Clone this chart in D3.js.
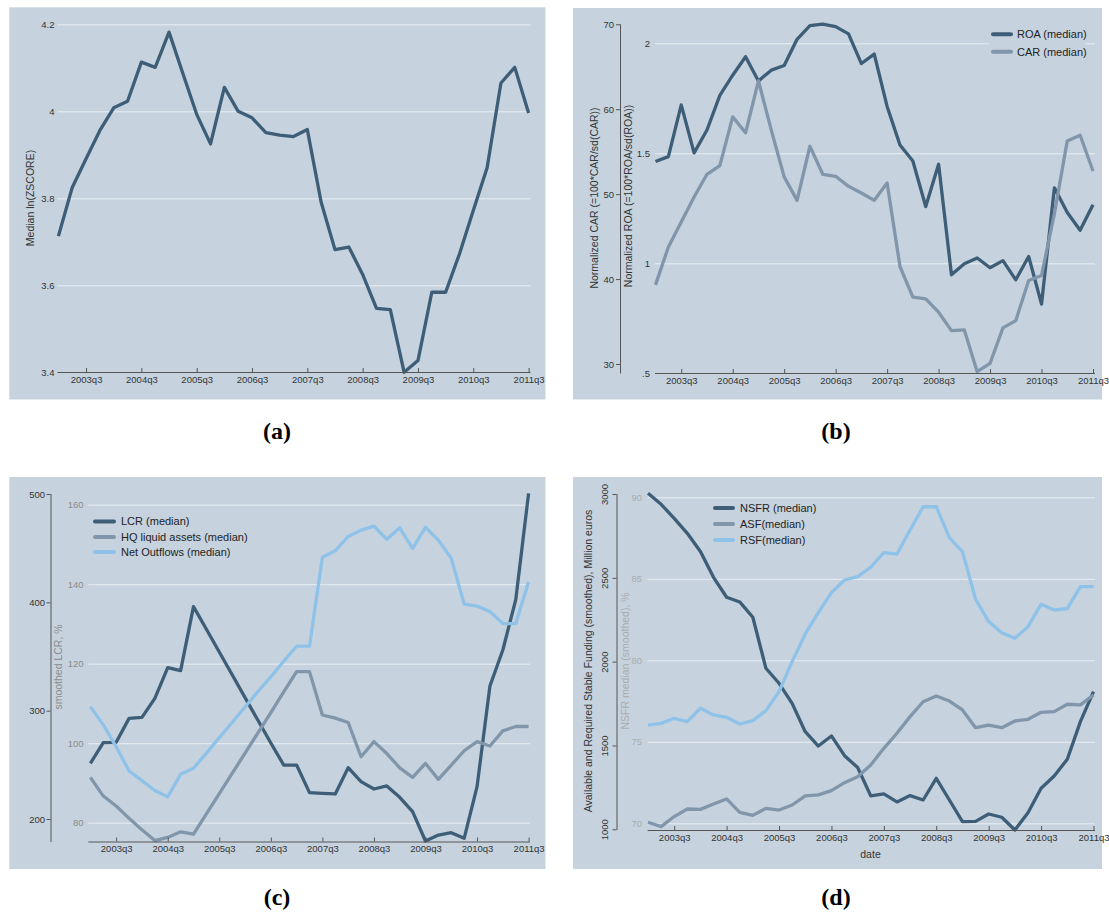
<!DOCTYPE html>
<html>
<head>
<meta charset="utf-8">
<script src="https://cdn.jsdelivr.net/npm/d3@7"></script>
<style>
  body { margin: 0; background: #fff; }
  svg text { font-family: 'Liberation Sans', Arial, sans-serif; }
</style>
</head>
<body>
<svg id="chart" width="1109" height="916"></svg>
<script>
// quarters on the x axis
const quarters = ['2003q1','2003q2','2003q3','2003q4','2004q1','2004q2','2004q3','2004q4',
  '2005q1','2005q2','2005q3','2005q4','2006q1','2006q2','2006q3','2006q4',
  '2007q1','2007q2','2007q3','2007q4','2008q1','2008q2','2008q3','2008q4',
  '2009q1','2009q2','2009q3','2009q4','2010q1','2010q2','2010q3','2010q4',
  '2011q1','2011q2','2011q3'];
const xTicks = ['2003q3','2004q3','2005q3','2006q3','2007q3','2008q3','2009q3','2010q3','2011q3'];

// (a) median ln(ZSCORE)
const zscore = [3.713,3.825,3.891,3.956,4.008,4.023,4.113,4.101,4.182,4.087,3.993,3.925,
  4.055,4.000,3.985,3.951,3.945,3.942,3.958,3.791,3.682,3.688,3.625,3.547,3.544,3.400,
  3.427,3.584,3.584,3.672,3.772,3.870,4.065,4.101,3.996];
const zTicks = [3.4, 3.6, 3.8, 4, 4.2];

// (b) normalized ROA / CAR
const roa = [1.463,1.485,1.720,1.502,1.606,1.763,1.855,1.939,1.829,1.878,1.899,2.018,
  2.080,2.087,2.076,2.043,1.908,1.951,1.713,1.538,1.465,1.258,1.450,0.948,0.998,1.024,
  0.980,1.012,0.925,1.031,0.815,1.343,1.231,1.150,1.266];
const car = [39.32,43.77,46.72,49.67,52.34,53.36,59.10,57.22,63.35,57.53,52.03,49.27,
  55.64,52.34,52.10,50.92,50.14,49.27,51.32,41.48,37.87,37.67,36.10,33.93,34.01,29.10,
  30.08,34.25,35.11,39.83,40.42,47.70,56.27,56.94,52.73];
const roaTicks = [0.5, 1, 1.5, 2];
const carTicks = [30, 40, 50, 60, 70];
const legendB = ['ROA (median)', 'CAR (median)'];

// (c) LCR and its components
const lcr = [251.4,270.5,270.8,292.9,293.8,311.4,339.7,336.9,396.0,375.1,354.2,333.2,
  312.0,291.1,270.2,249.8,249.8,224.3,223.7,223.1,247.4,234.5,227.7,230.5,220.0,206.8,
  179.7,185.2,187.4,182.2,229.8,322.8,356.0,402.2,500.6];
const hqAssets = [91.4,86.7,84.2,81.1,78.2,75.5,76.3,77.7,77.1,82.2,87.3,92.4,97.5,102.6,
  107.7,112.9,118.0,118.0,107.1,106.3,105.2,96.6,100.4,97.4,93.8,91.4,94.9,90.9,94.5,
  98.1,100.4,99.3,103.1,104.2,104.2];
const netOutflows = [109.2,104.6,99.1,93.0,90.6,88.1,86.5,92.2,93.7,97.5,101.4,105.2,
  109.1,113.0,116.7,120.6,124.4,124.4,146.8,148.4,152.0,153.6,154.6,151.3,154.2,149.0,
  154.3,151.1,146.5,135.0,134.5,133.1,130.1,130.1,140.6];
const lcrTicks = [200, 300, 400, 500];
const pctTicks = [80, 100, 120, 140, 160];
const legendC = ['LCR (median)', 'HQ liquid assets (median)', 'Net Outflows (median)'];

// (d) NSFR and its components
const nsfr = [90.25,89.57,88.71,87.79,86.67,85.09,83.87,83.58,82.64,79.51,78.59,77.36,
  75.62,74.74,75.36,74.15,73.42,71.68,71.80,71.31,71.70,71.43,72.76,71.43,70.10,70.12,
  70.57,70.37,69.59,70.65,72.15,72.90,73.93,76.24,78.08];
const asf = [1042,1016,1076,1121,1119,1151,1181,1101,1083,1125,1115,1145,1199,1205,1231,
  1278,1314,1384,1483,1573,1672,1761,1795,1765,1712,1606,1622,1606,1646,1656,1698,1702,
  1746,1742,1801];
const rsf = [1622,1632,1662,1642,1722,1682,1668,1628,1648,1708,1821,2000,2165,2292,2412,
  2487,2507,2563,2650,2642,2785,2924,2924,2740,2656,2372,2239,2173,2139,2209,2342,2308,
  2316,2447,2447];
const fundTicks = [1000, 1500, 2000, 2500, 3000];
const nsfrTicks = [70, 75, 80, 85, 90];
const legendD = ['NSFR (median)', 'ASF(median)', 'RSF(median)'];

const BG = '#c6d3df';
const GRID = '#e8eef3';
const AXIS = '#555';
const TXT = '#333';
const DARK = '#3e5e77';
const MID = '#8196aa';
const LIGHT = '#8ec2e8';

const svg = d3.select('#chart');
const fmt = d => (d > 0 && d < 1) ? String(d).replace(/^0/, '') : String(d);

function background(x0, y0, x1, y1) {
    svg.append('rect')
        .attr('x', x0).attr('y', y0)
        .attr('width', x1 - x0).attr('height', y1 - y0)
        .attr('fill', BG);
}

function xAxis(x, y, lineX0, lineX1) {
    const g = svg.append('g')
        .attr('transform', `translate(0, ${y})`)
        .call(d3.axisBottom(x).tickValues(xTicks).tickSize(-4).tickSizeOuter(0).tickPadding(4));
    g.select('.domain').attr('d', `M${lineX0},0.5H${lineX1}`).attr('stroke', AXIS);
    g.selectAll('.tick line').attr('stroke', AXIS);
    g.selectAll('text').attr('fill', TXT).attr('font-size', 9.5).attr('font-family', null);
    return g;
}

function grid(y, ticks, x0, x1) {
    svg.append('g')
        .attr('transform', `translate(${x0}, 0)`)
        .call(d3.axisRight(y).tickValues(ticks).tickSize(x1 - x0).tickFormat(''))
        .call(g => g.select('.domain').remove())
        .selectAll('line')
        .attr('stroke', GRID)
        .attr('stroke-width', 1);
}

function yLabels(y, ticks, x, color) {
    const g = svg.append('g')
        .attr('transform', `translate(${x}, 0)`)
        .call(d3.axisLeft(y).tickValues(ticks).tickSize(0).tickPadding(0).tickFormat(fmt));
    g.select('.domain').remove();
    g.selectAll('text').attr('fill', color).attr('font-size', 9.5).attr('font-family', null);
    return g;
}

function yAxisLine(y, ticks, x, y0, y1, pad) {
    const g = svg.append('g')
        .attr('transform', `translate(${x}, 0)`)
        .call(d3.axisLeft(y).tickValues(ticks).tickSize(4).tickPadding(pad).tickFormat(fmt));
    g.select('.domain').remove();
    g.selectAll('.tick line').attr('stroke', AXIS);
    g.selectAll('text').attr('fill', TXT).attr('font-size', 9.5).attr('font-family', null);
    g.append('line').attr('x1', 0.5).attr('x2', 0.5).attr('y1', y0).attr('y2', y1).attr('stroke', AXIS);
    return g;
}

function yTitle(text, cx, cy, color) {
    svg.append('text')
        .attr('transform', `translate(${cx}, ${cy}) rotate(-90)`)
        .attr('text-anchor', 'middle')
        .attr('dy', '0.35em')
        .attr('fill', color)
        .style('font-size', '10.5px')
        .text(text);
}

function series(x, y, values, color) {
    svg.append('path')
        .datum(values)
        .attr('fill', 'none')
        .attr('stroke', color)
        .attr('stroke-width', 3.3)
        .attr('stroke-linejoin', 'round')
        .attr('d', d3.line()
            .x((d, i) => x(quarters[i]))
            .y(d => y(d)));
}

function legend(labels, colors, x0, x1, tx, ys) {
    labels.forEach((label, i) => {
        svg.append('line')
            .attr('x1', x0).attr('x2', x1)
            .attr('y1', ys[i]).attr('y2', ys[i])
            .attr('stroke', colors[i])
            .attr('stroke-width', 4)
            .attr('stroke-linecap', 'round');
        svg.append('text')
            .attr('x', tx).attr('y', ys[i])
            .attr('dy', '0.35em')
            .attr('fill', '#222')
            .style('font-size', '11px')
            .text(label);
    });
}

function caption(text, cx, y) {
    svg.append('text')
        .attr('x', cx).attr('y', y)
        .attr('text-anchor', 'middle')
        .style('font-family', "'Liberation Serif', 'DejaVu Serif', serif")
        .style('font-weight', 'bold')
        .style('font-size', '24px')
        .text(text);
}

// ---------- (a) ----------
{
    background(9.3, 7.3, 545.5, 399.5);
    const x = d3.scalePoint().domain(quarters).range([58.4, 528.6]);
    const y = d3.scaleLinear().domain([3.4, 4.2]).range([372.3, 24.3]);
    grid(y, zTicks.slice(1), 57.5, 530.5);
    yLabels(y, zTicks, 54.5, TXT);
    yTitle('Median ln(ZSCORE)', 30.5, 198, TXT);
    series(x, y, zscore, DARK);
    xAxis(x, 372, 57.5, 530.5);
    caption('(a)', 277, 439);
}

// ---------- (b) ----------
{
    background(573, 8, 1102, 399.5);
    const x = d3.scalePoint().domain(quarters).range([655.5, 1093]);
    const yRoa = d3.scaleLinear().domain([0.5, 2]).range([373.3, 43.3]);
    const yCar = d3.scaleLinear().domain([30, 70]).range([364, 24.3]);
    grid(yRoa, roaTicks.slice(1), 655, 1095);
    yLabels(yRoa, roaTicks, 650, TXT);
    yAxisLine(yCar, carTicks, 620, 24.3, 373.5, 2);
    yTitle('Normalized CAR (=100*CAR/sd(CAR))', 594, 198, TXT);
    yTitle('Normalized ROA (=100*ROA/sd(ROA))', 628, 196, TXT);
    series(x, yRoa, roa, DARK);
    series(x, yCar, car, MID);
    xAxis(x, 373, 655, 1095);
    svg.append('rect')
        .attr('x', 989).attr('y', 25)
        .attr('width', 96).attr('height', 37)
        .attr('fill', BG);
    legend(legendB, [DARK, MID], 993, 1011, 1017, [34.3, 51.7]);
    caption('(b)', 836, 439);
}

// ---------- (c) ----------
{
    background(9.3, 477, 545.5, 869);
    const x = d3.scalePoint().domain(quarters).range([90.4, 528.6]);
    const yLcr = d3.scaleLinear().domain([200, 500]).range([819, 494]);
    const yPct = d3.scaleLinear().domain([80, 160]).range([822.7, 504.7]);
    grid(yPct, pctTicks, 88.3, 530);
    yLabels(yPct, pctTicks, 83.5, '#8c8c8c');
    yAxisLine(yLcr, lcrTicks, 50.5, 494, 842, 1.5);
    yTitle('smoothed LCR, %', 58, 667, '#8c8c8c');
    series(x, yLcr, lcr, DARK);
    series(x, yPct, hqAssets, MID);
    series(x, yPct, netOutflows, LIGHT);
    xAxis(x, 841.5, 88.3, 530);
    legend(legendC, [DARK, MID, LIGHT], 95, 114, 121, [521.5, 537, 552]);
    caption('(c)', 277, 905);
}

// ---------- (d) ----------
{
    background(573, 477, 1102, 869);
    const x = d3.scalePoint().domain(quarters).range([648, 1093.5]);
    const yFund = d3.scaleLinear().domain([1000, 3000]).range([829.3, 494]);
    const yNsfr = d3.scaleLinear().domain([70, 90]).range([823.3, 497.3]);
    grid(yNsfr, nsfrTicks, 647.6, 1095);
    yLabels(yNsfr, nsfrTicks, 642, '#ababab');
    const fundAxis = yAxisLine(yFund, fundTicks, 616.5, 494, 830, 2);
    fundAxis.selectAll('.tick text')
        .attr('transform', 'rotate(-90)')
        .attr('x', 0)
        .attr('y', -8.5)
        .attr('dy', '0')
        .attr('text-anchor', 'middle');
    yTitle('Available and Required Stable Funding (smoothed), Million euros', 588.6, 661, TXT);
    yTitle('NSFR median (smoothed), %', 625.7, 661, '#ababab');
    series(x, yNsfr, nsfr, DARK);
    series(x, yFund, asf, MID);
    series(x, yFund, rsf, LIGHT);
    xAxis(x, 830, 647.6, 1095);
    svg.append('text')
        .attr('x', 870.5).attr('y', 858)
        .attr('text-anchor', 'middle')
        .attr('fill', TXT)
        .style('font-size', '10.5px')
        .text('date');
    legend(legendD, [DARK, MID, LIGHT], 715, 733, 740, [508, 524, 540]);
    caption('(d)', 836, 905);
}
</script>
</body>
</html>
